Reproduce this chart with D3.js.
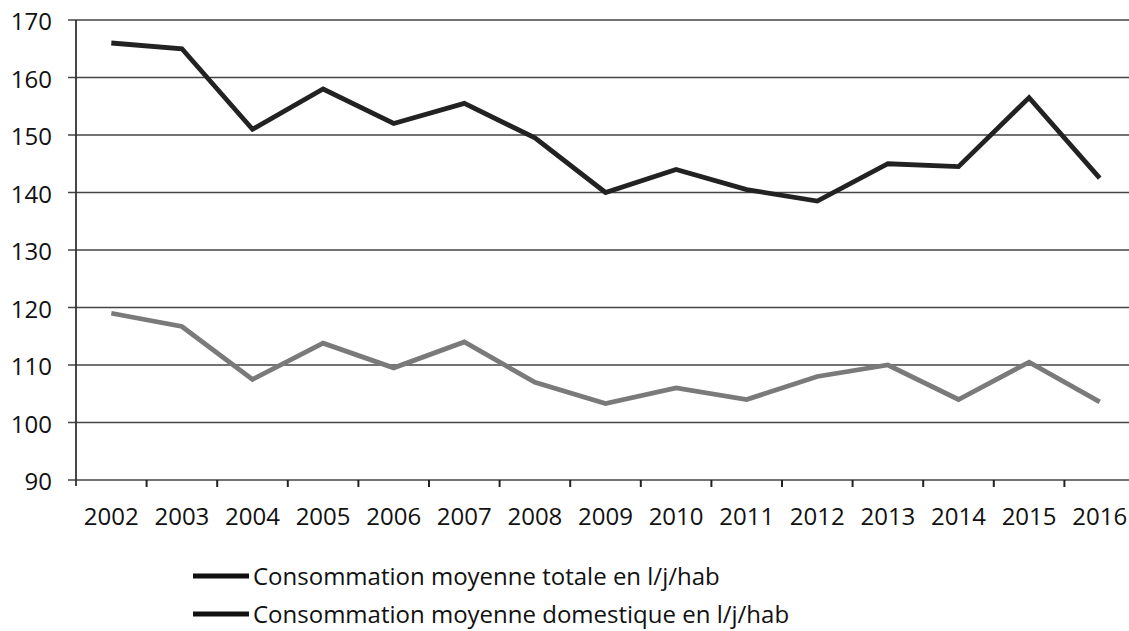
<!DOCTYPE html>
<html>
<head>
<meta charset="utf-8">
<script src="https://cdn.jsdelivr.net/npm/d3@7"></script>
<style>
  body { margin: 0; background: #fff; }
  svg { display: block; font-family: 'Open Sans', sans-serif; }
</style>
</head>
<body>
<svg width="1129" height="631"></svg>
<script>
// Chart values.
const YEARS = ['2002', '2003', '2004', '2005', '2006', '2007', '2008', '2009',
  '2010', '2011', '2012', '2013', '2014', '2015', '2016'];
const TOTAL = [166, 165, 151, 158, 152, 155.5, 149.5, 140, 144, 140.5, 138.5,
  145, 144.5, 156.5, 142.5];
const DOMESTIC = [119, 116.7, 107.5, 113.8, 109.5, 114, 107, 103.3, 106,
  104, 108, 110, 104, 110.5, 103.6];
const Y_TICKS = [90, 100, 110, 120, 130, 140, 150, 160, 170];
const SERIES_LABELS = [
  'Consommation moyenne totale en l/j/hab',
  'Consommation moyenne domestique en l/j/hab',
];

const svg = d3.select('svg');
const plotLeft = 76;
const plotRight = 1135; // Plot runs slightly off the page, as in the scan.
const plotTop = 20;
const plotBottom = 480;
const FONT_SIZE = 24;

const x = d3.scaleBand().domain(YEARS).range([plotLeft, plotRight]);
const y = d3.scaleLinear().domain([90, 170]).range([plotBottom, plotTop]);

// Horizontal gridlines, with a small stub left of the axis.
svg.append('g')
    .attr('stroke', '#444')
    .attr('stroke-width', 1.7)
    .selectAll('line')
    .data(Y_TICKS)
    .join('line')
    .attr('x1', plotLeft - 8)
    .attr('x2', plotRight)
    .attr('y1', d => y(d))
    .attr('y2', d => y(d));

// Y axis line.
svg.append('line')
    .attr('x1', plotLeft).attr('x2', plotLeft)
    .attr('y1', plotTop).attr('y2', plotBottom + 6)
    .attr('stroke', '#333')
    .attr('stroke-width', 1.8);

svg.append('g')
    .attr('fill', '#111')
    .attr('font-size', FONT_SIZE)
    .attr('text-anchor', 'end')
    .selectAll('text')
    .data(Y_TICKS)
    .join('text')
    .attr('x', 52)
    .attr('y', d => y(d) + 10)
    .text(d => d);

// X axis tick marks sit on the band boundaries.
svg.append('g')
    .attr('stroke', '#222')
    .attr('stroke-width', 2)
    .selectAll('line')
    .data(YEARS.slice(1))
    .join('line')
    .attr('x1', d => x(d))
    .attr('x2', d => x(d))
    .attr('y1', plotBottom)
    .attr('y2', plotBottom + 7);

svg.append('g')
    .attr('fill', '#111')
    .attr('font-size', FONT_SIZE)
    .attr('text-anchor', 'middle')
    .selectAll('text')
    .data(YEARS)
    .join('text')
    .attr('x', d => x(d) + x.bandwidth() / 2)
    .attr('y', 525)
    .text(d => d);

const line = d3.line()
    .x((d, i) => x(YEARS[i]) + x.bandwidth() / 2)
    .y(d => y(d));

svg.append('path')
    .datum(DOMESTIC)
    .attr('fill', 'none')
    .attr('stroke', '#7a7a7a')
    .attr('stroke-width', 4.8)
    .attr('stroke-linejoin', 'miter')
    .attr('d', line);

svg.append('path')
    .datum(TOTAL)
    .attr('fill', 'none')
    .attr('stroke', '#222')
    .attr('stroke-width', 4.8)
    .attr('stroke-linejoin', 'miter')
    .attr('d', line);

// Legend (both samples print dark in the scan).
const legend = svg.append('g')
    .selectAll('g')
    .data(SERIES_LABELS)
    .join('g')
    .attr('transform', (d, i) => `translate(193, ${576 + i * 38})`);

legend.append('line')
    .attr('x1', 0).attr('x2', 56)
    .attr('stroke', '#111')
    .attr('stroke-width', 5);

legend.append('text')
    .attr('x', 60)
    .attr('y', 8.5)
    .attr('font-size', FONT_SIZE)
    .attr('fill', '#111')
    .text(d => d);
</script>
</body>
</html>
